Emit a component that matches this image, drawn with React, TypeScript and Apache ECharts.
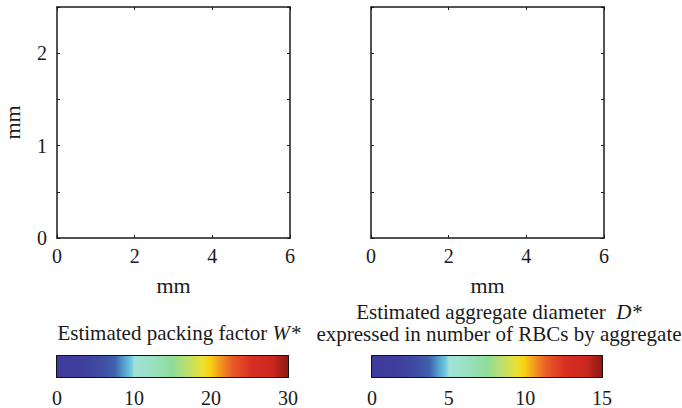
import React, { useEffect, useRef } from "react";
import * as echarts from "echarts";

// Panel axes (mm)
const xRange = [0, 6];
const yRange = [0, 2.5];
const xInterval = 2;
const yInterval = 0.5;

// Colorbar scales
const wScale = [0, 30];
const wInterval = 10;
const dScale = [0, 15];
const dInterval = 5;

// Colormap stops (fraction, colour)
const cmapPos = [0, 0.12, 0.2, 0.25, 0.29, 0.32, 0.335, 0.42, 0.5, 0.57, 0.63, 0.665, 0.7, 0.76, 0.84, 0.93, 1];
const cmapCol = [
  "#3e3a9a", "#3f3f9e", "#3f4ea4", "#3d63ad", "#55a0cc", "#6ec8e0", "#a0e2d8", "#98e0c0",
  "#8fdc98", "#c0e068", "#ece034", "#f8d010", "#f2a020", "#ea5a26", "#d82e22", "#cc2820", "#8e1a14",
];

// Texts
const axisName = "mm";
const wTitle = "Estimated packing factor ";
const wSym = "W*";
const dTitle1 = "Estimated aggregate diameter  ";
const dSym = "D*";
const dTitle2 = "expressed in number of RBCs by aggregate";

const FONT = "Times New Roman, Liberation Serif, serif";
const INK = "#1a1a1a";

export default function App() {
  const ref = useRef<HTMLDivElement>(null);
  useEffect(() => {
    if (!ref.current) return;
    const chart = echarts.init(ref.current, null, { renderer: "svg" });

    const stops = cmapPos.map((p, i) => ({ offset: p, color: cmapCol[i] }));
    const lineStyle = { color: INK, width: 1.5 };
    const tickIn = { show: true, inside: true, length: 3, lineStyle: { color: INK, width: 1 } };
    const label = { color: INK, fontSize: 20, fontFamily: FONT };

    const panelGrids = [
      { left: 57, top: 7, width: 233, height: 231 },
      { left: 371, top: 7, width: 233, height: 231 },
    ];
    const barGrids = [
      { left: 57, top: 356, width: 231, height: 21 },
      { left: 372, top: 356, width: 230, height: 21 },
    ];
    const grids = [...panelGrids, ...barGrids].map((g) => ({ ...g, containLabel: false }));

    const xAxes: any[] = [];
    const yAxes: any[] = [];
    [0, 1].forEach((gi) => {
      xAxes.push({
        type: "value", gridIndex: gi, position: "bottom", min: xRange[0], max: xRange[1], interval: xInterval,
        axisLine: { show: true, onZero: false, lineStyle }, axisTick: tickIn, splitLine: { show: false },
        axisLabel: { ...label, margin: 8 },
        name: axisName, nameLocation: "middle", nameGap: 36,
        nameTextStyle: { color: INK, fontSize: 22, fontFamily: FONT },
      });
      xAxes.push({
        type: "value", gridIndex: gi, position: "top", min: xRange[0], max: xRange[1], interval: xInterval,
        axisLine: { show: true, onZero: false, lineStyle }, axisTick: tickIn, splitLine: { show: false },
        axisLabel: { show: false },
      });
      yAxes.push({
        type: "value", gridIndex: gi, position: "left", min: yRange[0], max: yRange[1], interval: yInterval,
        axisLine: { show: true, onZero: false, lineStyle }, axisTick: tickIn, splitLine: { show: false },
        axisLabel: {
          ...label, show: gi === 0, margin: 10, padding: [0, 0, 8, 0],
          formatter: (v: number) => (Number.isInteger(v) && v < yRange[1] ? String(v) : ""),
        },
        name: gi === 0 ? axisName : "", nameLocation: "middle", nameGap: 34, nameRotate: 90,
        nameTextStyle: { color: INK, fontSize: 22, fontFamily: FONT },
      });
      yAxes.push({
        type: "value", gridIndex: gi, position: "right", min: yRange[0], max: yRange[1], interval: yInterval,
        axisLine: { show: true, onZero: false, lineStyle }, axisTick: tickIn, splitLine: { show: false },
        axisLabel: { show: false },
      });
    });
    const scales = [
      { r: wScale, iv: wInterval },
      { r: dScale, iv: dInterval },
    ];
    scales.forEach((s, k) => {
      const gi = 2 + k;
      const barLine = { color: "#111", width: 2 };
      xAxes.push({
        type: "value", gridIndex: gi, position: "bottom", min: s.r[0], max: s.r[1], interval: s.iv,
        axisLine: { show: true, onZero: false, lineStyle: barLine }, axisTick: tickIn, splitLine: { show: false },
        axisLabel: { ...label, margin: 11 },
      });
      xAxes.push({
        type: "value", gridIndex: gi, position: "top", min: s.r[0], max: s.r[1], interval: s.iv,
        axisLine: { show: true, onZero: false, lineStyle: barLine }, axisTick: tickIn, splitLine: { show: false },
        axisLabel: { show: false },
      });
      yAxes.push({
        type: "value", gridIndex: gi, position: "left", min: 0, max: 1,
        axisLine: { show: true, onZero: false, lineStyle: barLine }, axisTick: { show: false },
        splitLine: { show: false }, axisLabel: { show: false },
      });
      yAxes.push({
        type: "value", gridIndex: gi, position: "right", min: 0, max: 1,
        axisLine: { show: true, onZero: false, lineStyle: barLine }, axisTick: { show: false },
        splitLine: { show: false }, axisLabel: { show: false },
      });
    });

    const series: any[] = [];
    [0, 1].forEach((gi) => {
      series.push({ type: "scatter", xAxisIndex: gi * 2, yAxisIndex: gi * 2, data: [], silent: true });
    });
    scales.forEach((s, k) => {
      const ai = 4 + k * 2;
      series.push({
        type: "custom",
        xAxisIndex: ai,
        yAxisIndex: ai,
        silent: true,
        z: 1,
        data: [[s.r[0], s.r[1]]],
        renderItem: (params: any, api: any) => {
          const p0 = api.coord([api.value(0), 0]);
          const p1 = api.coord([api.value(1), 1]);
          return {
            type: "rect",
            shape: { x: p0[0], y: p1[1], width: p1[0] - p0[0], height: p0[1] - p1[1] },
            style: { fill: new echarts.graphic.LinearGradient(0, 0, 1, 0, stops) },
          };
        },
      });
    });

    const italic = { fontStyle: "italic", fontSize: 21, fontFamily: FONT, fill: INK, lineHeight: 22 };
    const plain = { fontSize: 21, fontFamily: FONT, fill: INK, lineHeight: 22 };
    chart.setOption({
      animation: false,
      textStyle: { fontFamily: FONT },
      grid: grids,
      xAxis: xAxes,
      yAxis: yAxes,
      series,
      graphic: [
        {
          type: "text", x: 179, y: 333,
          style: {
            text: "{p|" + wTitle + "}{i|" + wSym + "}", fontSize: 21, fontFamily: FONT, fill: INK,
            align: "center", verticalAlign: "middle",
            rich: { i: italic, p: plain },
          },
        },
        {
          type: "text", x: 499, y: 323,
          style: {
            text: "{p|" + dTitle1 + "}{i|" + dSym + "}\n{p|" + dTitle2 + "}", fontSize: 21, fontFamily: FONT, fill: INK,
            lineHeight: 22, align: "center", verticalAlign: "middle",
            rich: { i: italic, p: plain },
          },
        },
      ],
    });
    return () => chart.dispose();
  }, []);
  return (
    <div
      ref={ref}
      style={{ position: "absolute", left: 0, top: 0, width: 682, height: 408, background: "#fff" }}
    />
  );
}
